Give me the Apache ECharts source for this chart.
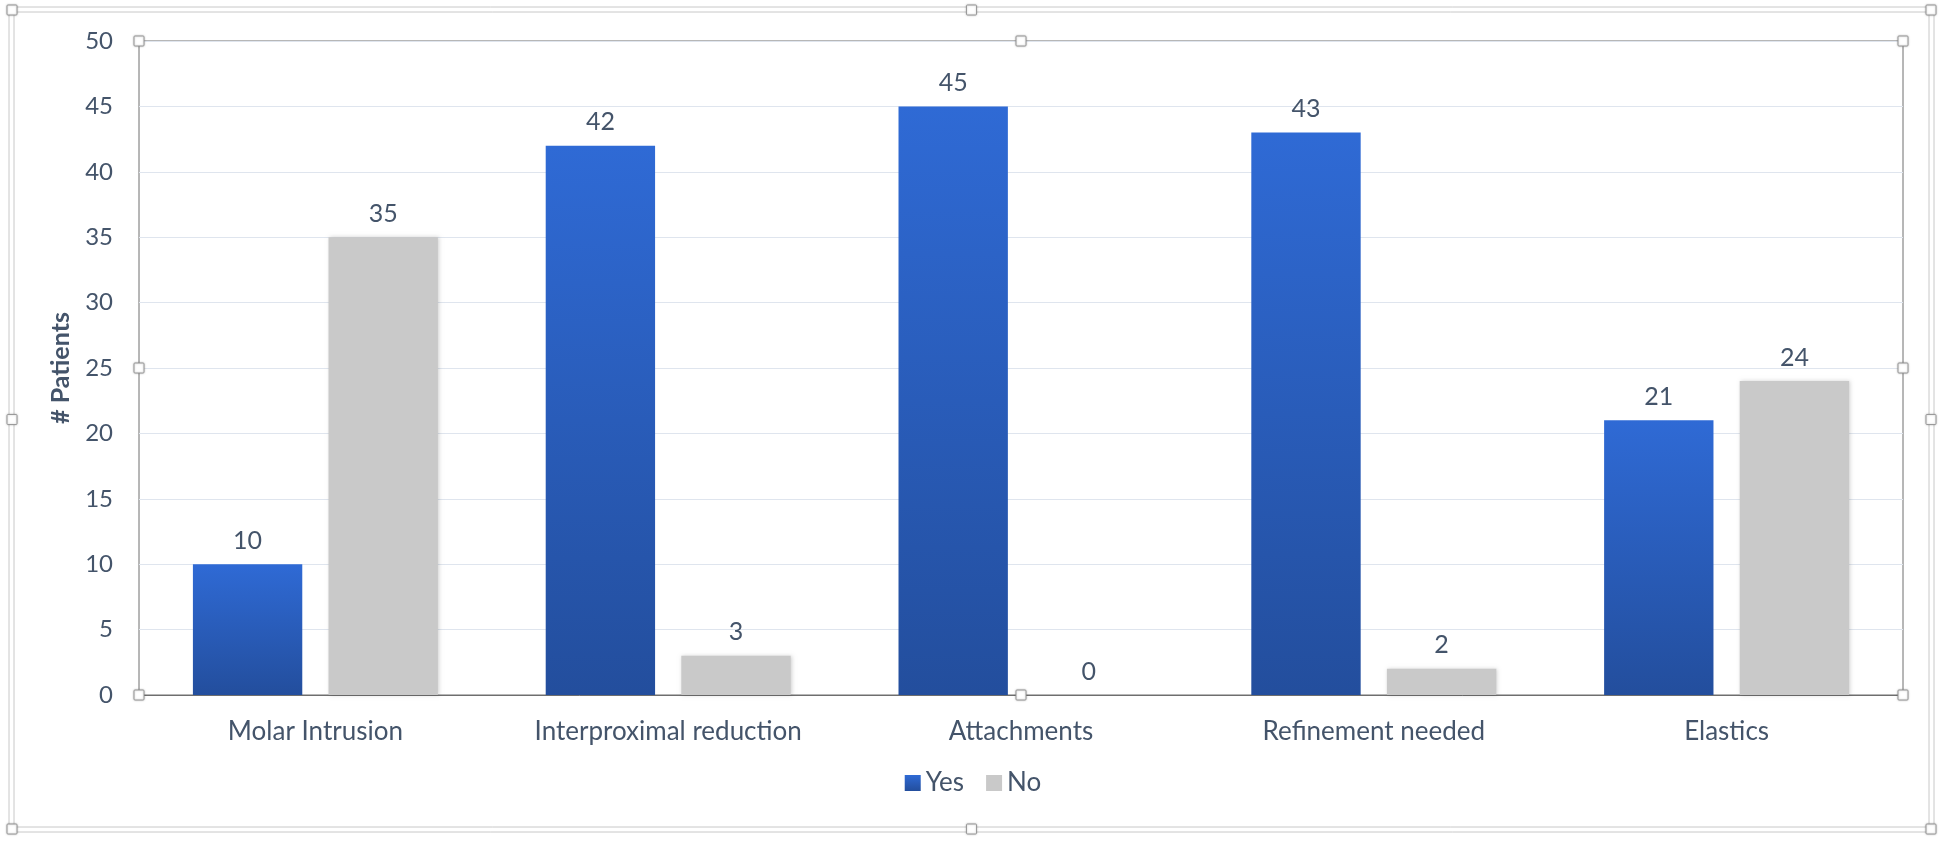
<!DOCTYPE html>
<html>
<head>
<meta charset="utf-8">
<script src="https://cdn.jsdelivr.net/npm/echarts@6/dist/echarts.min.js"></script>
<style>
html,body{margin:0;padding:0;background:#fff;}
#main{width:1946px;height:845px;}
</style>
</head>
<body>
<div id="main"></div>
<script>
const categories = ['Molar Intrusion', 'Interproximal reduction', 'Attachments', 'Refinement needed', 'Elastics'];
const yesValues = [10, 42, 45, 43, 21];
const noValues = [35, 3, 0, 2, 24];
const yTicks = [0, 5, 10, 15, 20, 25, 30, 35, 40, 45, 50];

const textColor = '#44546A';
const fontFam = 'Lato, "Open Sans", sans-serif';

const chart = echarts.init(document.getElementById('main'));

function handle(x, y) {
  return {
    type: 'rect', shape: {x: x - 5, y: y - 5, width: 10, height: 10, r: 1},
    style: {fill: '#fff', stroke: '#9a9a9a', lineWidth: 1,
            shadowBlur: 2, shadowColor: 'rgba(0,0,0,0.25)'},
    z: 100
  };
}
const gl = 139, gr = 1903, gt = 41, gb = 695;
const ol = 12, orr = 1931, ot = 10, ob = 829;

chart.setOption({
  backgroundColor: '#fff',
  animation: false,
  textStyle: {fontFamily: fontFam},
  grid: {left: gl, right: 1946 - gr, top: gt, bottom: 845 - gb, show: true,
         borderColor: '#6e6e6e', borderWidth: 1},
  legend: {
    data: ['Yes', 'No'], bottom: 44, left: 'center', itemWidth: 16, itemHeight: 16,
    itemGap: 22,
    textStyle: {color: textColor, fontSize: 26, fontFamily: fontFam},
    icon: 'rect'
  },
  xAxis: {
    type: 'category', data: categories,
    axisLine: {show: true, lineStyle: {color: '#6e6e6e'}},
    axisTick: {show: false},
    axisLabel: {color: textColor, fontSize: 26, margin: 24, fontFamily: fontFam}
  },
  yAxis: {
    type: 'value', min: yTicks[0], max: yTicks[yTicks.length - 1], interval: 5,
    name: '# Patients', nameLocation: 'middle', nameGap: 66, nameRotate: 90,
    nameTextStyle: {color: textColor, fontSize: 25, fontWeight: 'bold', fontFamily: fontFam},
    axisLine: {show: false},
    axisTick: {show: false},
    axisLabel: {color: textColor, fontSize: 24, margin: 26, fontFamily: fontFam},
    splitLine: {lineStyle: {color: '#dfe5ee', width: 1}}
  },
  series: [
    {
      name: 'Yes', type: 'bar', data: yesValues,
      barWidth: '31%', barGap: '24%',
      itemStyle: {
        color: new echarts.graphic.LinearGradient(0, 0, 0, 1, [
          {offset: 0, color: '#2F6AD5'},
          {offset: 1, color: '#234E9D'}
        ])
      },
      label: {show: true, position: 'top', distance: 11, color: textColor, fontSize: 25, fontFamily: fontFam}
    },
    {
      name: 'No', type: 'bar', data: noValues,
      barWidth: '31%',
      itemStyle: {color: '#C9C9C9', shadowBlur: 4, shadowColor: 'rgba(0,0,0,0.18)', shadowOffsetX: 1, shadowOffsetY: 0},
      label: {show: true, position: 'top', distance: 11, color: textColor, fontSize: 25, fontFamily: fontFam}
    }
  ],
  color: ['#2B5FC4', '#C9C9C9'],
  graphic: [
    {type: 'rect', shape: {x: ol - 3, y: ot - 3, width: orr - ol + 6, height: ob - ot + 6},
     style: {fill: 'none', stroke: '#c8c8c8', lineWidth: 1}, z: 90},
    {type: 'rect', shape: {x: ol + 2, y: ot + 2, width: orr - ol - 4, height: ob - ot - 4},
     style: {fill: 'none', stroke: '#c8c8c8', lineWidth: 1}, z: 90},
    handle(gl, gt), handle((gl + gr) / 2, gt), handle(gr, gt),
    handle(gl, (gt + gb) / 2), handle(gr, (gt + gb) / 2),
    handle(gl, gb), handle((gl + gr) / 2, gb), handle(gr, gb),
    handle(ol, ot), handle((ol + orr) / 2, ot), handle(orr, ot),
    handle(ol, (ot + ob) / 2), handle(orr, (ot + ob) / 2),
    handle(ol, ob), handle((ol + orr) / 2, ob), handle(orr, ob)
  ]
});
</script>
</body>
</html>
